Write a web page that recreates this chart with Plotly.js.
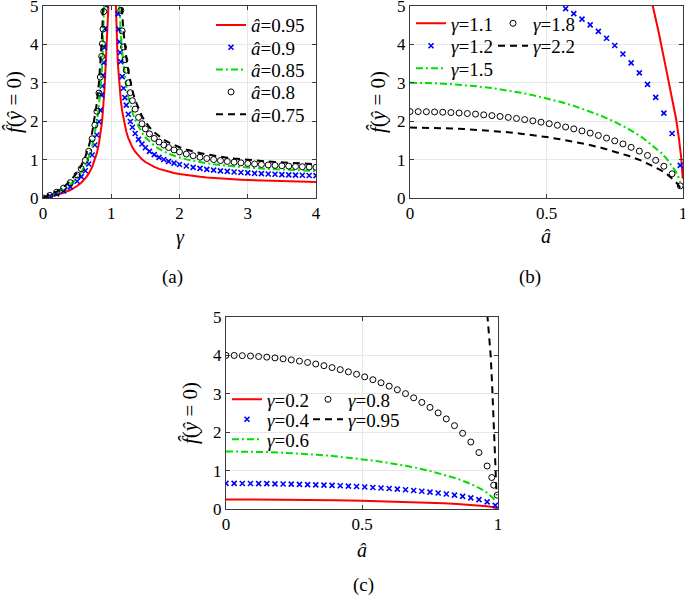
<!DOCTYPE html>
<html>
<head>
<meta charset="utf-8">
<script src="https://cdn.plot.ly/plotly-3.0.1.min.js"></script>
<style>html,body{margin:0;padding:0;background:#fff;}#chart{width:685px;height:597px;}</style>
</head>
<body>
<div id="chart"></div>
<script>
// ---------- Panel (a): f(y=0) versus gamma ----------
const gammaA = [0,0.1,0.2,0.3,0.4,0.5,0.56,0.62,0.67,0.72,0.76,0.79,0.82,0.84,0.86,0.87,0.88,0.89,0.9,0.91,0.92,0.93,0.94,0.96,1.04,1.06,1.07,1.08,1.09,1.1,1.11,1.12,1.13,1.14,1.16,1.18,1.2,1.22,1.25,1.28,1.31,1.35,1.4,1.45,1.5,1.56,1.63,1.7,1.77,1.84,1.92,2.0,2.1,2.2,2.3,2.4,2.5,2.6,2.7,2.8,2.9,3.0,3.1,3.2,3.3,3.4,3.5,3.6,3.7,3.8,3.9,4.0];
const fA095 = [0,0.035,0.078,0.134,0.208,0.312,0.397,0.509,0.634,0.803,0.989,1.174,1.422,1.639,1.918,2.089,2.289,2.526,2.81,3.157,3.59,4.148,4.891,7.49,8.12,5.516,4.772,4.215,3.781,3.434,3.15,2.914,2.714,2.542,2.263,2.047,1.873,1.731,1.561,1.427,1.319,1.204,1.093,1.006,0.937,0.87,0.808,0.758,0.718,0.684,0.652,0.624,0.596,0.572,0.552,0.535,0.52,0.507,0.496,0.486,0.477,0.468,0.461,0.454,0.448,0.442,0.437,0.432,0.428,0.424,0.42,0.416];
const fA090 = [0,0.048,0.109,0.187,0.291,0.436,0.555,0.711,0.885,1.121,1.38,1.64,1.986,2.288,2.678,2.917,3.197,3.527,3.923,4.407,5.013,5.79,6.83,10.46,11.33,7.7,6.66,5.885,5.279,4.795,4.399,4.068,3.789,3.549,3.16,2.858,2.615,2.417,2.18,1.993,1.842,1.681,1.526,1.405,1.308,1.214,1.128,1.059,1.002,0.955,0.91,0.872,0.832,0.799,0.771,0.747,0.727,0.708,0.692,0.678,0.665,0.654,0.643,0.634,0.625,0.618,0.61,0.604,0.597,0.592,0.586,0.581];
const fA085 = [0,0.059,0.132,0.226,0.351,0.527,0.67,0.86,1.07,1.355,1.668,1.982,2.4,2.766,3.236,3.525,3.863,4.262,4.741,5.327,6.058,7.0,8.25,12.64,13.7,9.31,8.05,7.112,6.38,5.795,5.316,4.917,4.579,4.29,3.819,3.453,3.161,2.921,2.634,2.408,2.226,2.032,1.844,1.697,1.58,1.468,1.363,1.279,1.211,1.154,1.099,1.054,1.006,0.966,0.932,0.903,0.878,0.856,0.837,0.819,0.804,0.79,0.778,0.766,0.756,0.746,0.738,0.729,0.722,0.715,0.708,0.702];
const fA080 = [0,0.067,0.15,0.257,0.4,0.6,0.764,0.979,1.218,1.543,1.9,2.257,2.733,3.15,3.686,4.015,4.4,4.855,5.4,6.067,6.9,7.97,9.4,14.4,15.6,10.6,9.17,8.1,7.267,6.6,6.055,5.6,5.215,4.886,4.35,3.933,3.6,3.327,3.0,2.743,2.535,2.314,2.1,1.933,1.8,1.671,1.552,1.457,1.379,1.314,1.252,1.2,1.145,1.1,1.062,1.029,1.0,0.975,0.953,0.933,0.916,0.9,0.886,0.873,0.861,0.85,0.84,0.831,0.822,0.814,0.807,0.8];
const fA075 = [0,0.073,0.165,0.283,0.441,0.661,0.842,1.079,1.343,1.701,2.094,2.488,3.013,3.472,4.063,4.426,4.85,5.351,5.953,6.687,7.606,8.79,10.36,15.87,17.2,11.68,10.11,8.929,8.01,7.275,6.674,6.173,5.749,5.386,4.795,4.336,3.968,3.668,3.307,3.024,2.795,2.551,2.315,2.131,1.984,1.842,1.711,1.606,1.52,1.449,1.38,1.323,1.263,1.213,1.17,1.134,1.102,1.075,1.05,1.029,1.009,0.992,0.976,0.962,0.949,0.937,0.926,0.916,0.906,0.898,0.889,0.882];
const namesA = ['â=0.95','â=0.9','â=0.85','â=0.8','â=0.75'];

// ---------- Panel (b): f(y=0) versus a-hat, gamma > 1 ----------
const aLine = [0,0.05,0.1,0.15,0.2,0.25,0.3,0.35,0.4,0.45,0.5,0.55,0.6,0.65,0.7,0.75,0.8,0.85,0.9,0.92,0.94,0.96,0.97,0.98,0.99];
const aMark = [0,0.03,0.06,0.09,0.12,0.15,0.18,0.21,0.24,0.27,0.3,0.33,0.36,0.39,0.42,0.45,0.48,0.51,0.54,0.57,0.6,0.63,0.66,0.69,0.72,0.75,0.78,0.81,0.84,0.87,0.9,0.93,0.96,0.99];
const aB11 = [0.87,0.89,0.91,0.93,0.95,0.965,0.975,0.985,0.993,0.999];
const fB11 = [5.6,5.0,4.35,3.65,2.95,2.42,2.05,1.55,1.08,0.5];
const aB12 = [0.57,0.6,0.63,0.66,0.69,0.72,0.75,0.78,0.81,0.84,0.87,0.9,0.93,0.96,0.99];
const fB12 = [4.93,4.8,4.66,4.51,4.34,4.16,3.97,3.75,3.52,3.26,2.96,2.62,2.21,1.68,0.85];
const fB15 = [3,2.996,2.985,2.966,2.939,2.905,2.862,2.81,2.75,2.679,2.598,2.505,2.4,2.28,2.142,1.984,1.8,1.58,1.308,1.176,1.024,0.84,0.729,0.597,0.423];
const fB18 = [2.25,2.249,2.246,2.241,2.234,2.225,2.213,2.2,2.184,2.166,2.146,2.124,2.099,2.072,2.042,2.009,1.974,1.935,1.894,1.849,1.8,1.747,1.69,1.629,1.561,1.488,1.408,1.319,1.221,1.109,0.981,0.827,0.63,0.317];
const fB22 = [1.833,1.831,1.824,1.813,1.796,1.775,1.749,1.717,1.68,1.637,1.588,1.531,1.467,1.393,1.309,1.213,1.1,0.966,0.799,0.719,0.625,0.513,0.446,0.365,0.259];

// ---------- Panel (c): f(y=0) versus a-hat, gamma < 1 ----------
const aC02 = [0,0.1,0.2,0.3,0.4,0.5,0.6,0.7,0.8,0.85,0.9,0.94,0.96,0.98,0.99,0.999];
const fC02 = [0.25,0.249,0.245,0.238,0.229,0.217,0.2,0.179,0.15,0.132,0.109,0.085,0.07,0.05,0.035,0.011];
const fC04 = [0.667,0.666,0.665,0.664,0.662,0.659,0.656,0.652,0.647,0.642,0.636,0.629,0.622,0.614,0.605,0.595,0.585,0.573,0.561,0.548,0.533,0.518,0.501,0.483,0.463,0.441,0.417,0.391,0.362,0.329,0.291,0.245,0.187,0.094];
const fC06 = [1.5,1.498,1.492,1.483,1.47,1.452,1.431,1.405,1.375,1.34,1.299,1.253,1.2,1.14,1.071,0.992,0.9,0.79,0.654,0.588,0.512,0.42,0.365,0.299,0.212];
const aC08 = [0,0.03,0.06,0.09,0.12,0.15,0.18,0.21,0.24,0.27,0.3,0.33,0.36,0.39,0.42,0.45,0.48,0.51,0.54,0.57,0.6,0.63,0.66,0.69,0.72,0.75,0.78,0.81,0.84,0.87,0.9,0.93,0.96,0.977,0.984,0.997];
const fC08 = [4,3.998,3.993,3.984,3.971,3.955,3.935,3.911,3.883,3.851,3.816,3.776,3.732,3.683,3.63,3.572,3.509,3.441,3.367,3.287,3.2,3.106,3.005,2.895,2.776,2.646,2.503,2.346,2.17,1.972,1.744,1.47,1.12,0.82,0.62,0.36];
const aC095 = [0.95,0.962,0.968,0.973,0.978,0.983,0.986,0.989,0.992,0.995];
const fC095 = [6.0,5.0,4.5,4.0,3.3,2.6,2.0,1.4,0.85,0.36];

const xTicksA = [0,1,2,3,4];
const xTicksB = [0,0.5,1];
const yTicks = [0,1,2,3,4,5];

// ---------- styles ----------
const W = 685, H = 597;
const SERIF = "'Liberation Serif', 'Times New Roman', Times, serif";
const RED = '#ff0000', BLUE = '#0000ff', GREEN = '#00e000', BLACK = '#000000';
const solid = {color: RED, width: 2};
const dashdot = {color: GREEN, width: 2, dash: '7px,3px,2px,3px'};
const dashed = {color: BLACK, width: 2, dash: '7px,5px'};
const xMark = {symbol: 'x-thin', size: 5, color: BLUE, line: {color: BLUE, width: 1.6}};
const oMark = {symbol: 'circle-open', size: 6, color: BLACK, line: {color: BLACK, width: 1}};

function lab(name) { // italic variable in legend labels
  return name.replace(/^(â|γ)/, '<i>$1</i>');
}
const traces = [];
function add(x, y, name, ax, legend, kind) {
  const t = {x: x, y: y, name: lab(name), xaxis: 'x' + ax, yaxis: 'y' + ax,
    legend: legend, showlegend: true, cliponaxis: true, hoverinfo: 'skip'};
  if (kind === 'solid') { t.mode = 'lines'; t.line = solid; }
  if (kind === 'dashdot') { t.mode = 'lines'; t.line = dashdot; }
  if (kind === 'dashed') { t.mode = 'lines'; t.line = dashed; }
  if (kind === 'x') { t.mode = 'markers'; t.marker = xMark; }
  if (kind === 'o') { t.mode = 'markers'; t.marker = oMark; }
  traces.push(t);
}
add(gammaA, fA095, namesA[0], '', 'legend', 'solid');
add(gammaA, fA090, namesA[1], '', 'legend2', 'x');
add(gammaA, fA085, namesA[2], '', 'legend3', 'dashdot');
add(gammaA, fA080, namesA[3], '', 'legend4', 'o');
add(gammaA, fA075, namesA[4], '', 'legend5', 'dashed');

add(aB11, fB11, 'γ=1.1', '2', 'legend6', 'solid');
add(aB12, fB12, 'γ=1.2', '2', 'legend7', 'x');
add(aLine, fB15, 'γ=1.5', '2', 'legend8', 'dashdot');
add(aMark, fB18, 'γ=1.8', '2', 'legend9', 'o');
add(aLine, fB22, 'γ=2.2', '2', 'legend10', 'dashed');

add(aC02, fC02, 'γ=0.2', '3', 'legend11', 'solid');
add(aMark, fC04, 'γ=0.4', '3', 'legend12', 'x');
add(aLine, fC06, 'γ=0.6', '3', 'legend13', 'dashdot');
add(aC08, fC08, 'γ=0.8', '3', 'legend14', 'o');
add(aC095, fC095, 'γ=0.95', '3', 'legend15', 'dashed');

// ---------- layout ----------
function axis(domainPx, range, ticks, isY) {
  const d = isY ? [1 - domainPx[1] / H, 1 - domainPx[0] / H] : [domainPx[0] / W, domainPx[1] / W];
  return {
    domain: d, range: range, tickvals: ticks, ticktext: ticks.map(String),
    showgrid: true, gridcolor: '#e6e6e6', gridwidth: 1, zeroline: false,
    showline: true, linecolor: '#3a3a3a', linewidth: 1, mirror: 'ticks',
    ticks: 'inside', ticklen: 4, tickcolor: '#3a3a3a', tickwidth: 1,
    ticklabeloverflow: 'allow',
    tickfont: {family: SERIF, size: 17, color: '#000'}, fixedrange: true
  };
}
const layout = {
  width: W, height: H, margin: {l: 0, r: 0, t: 0, b: 0},
  font: {family: SERIF, color: '#000'},
  paper_bgcolor: '#fff', plot_bgcolor: '#fff', showlegend: true,
  xaxis: Object.assign(axis([43, 316], [0, 4], xTicksA, false), {anchor: 'y'}),
  yaxis: Object.assign(axis([6, 198], [0, 5], yTicks, true), {anchor: 'x'}),
  xaxis2: Object.assign(axis([410, 683], [0, 1], xTicksB, false), {anchor: 'y2'}),
  yaxis2: Object.assign(axis([6, 198], [0, 5], yTicks, true), {anchor: 'x2'}),
  xaxis3: Object.assign(axis([226, 498], [0, 1], xTicksB, false), {anchor: 'y3'}),
  yaxis3: Object.assign(axis([317, 509], [0, 5], yTicks, true), {anchor: 'x3'}),
  annotations: []
};

// legends: one entry each; L = left edge of the entry (line sample starts there)
const LFS = 19;
const itemH = LFS * 1.3 + 3;
function legendAt(L, yc) {
  return {x: L / W, y: 1 - (yc - (itemH / 2 + 5)) / H, xanchor: 'left', yanchor: 'top',
    bgcolor: 'rgba(0,0,0,0)', borderwidth: 0, font: {family: SERIF, size: LFS, color: '#000'},
    itemwidth: 30};
}
const legendSpots = [
  [211, 25], [211, 47.3], [211, 69.6], [211, 91.9], [211, 114.2],
  [411, 23.3], [411, 45.7], [411, 68.3], [493, 23.3], [493, 45.7],
  [227, 399.3], [227, 419.3], [227, 439.3], [308, 399.3], [308, 419.3]
];
legendSpots.forEach(function (s, i) {
  layout[i === 0 ? 'legend' : 'legend' + (i + 1)] = legendAt(s[0], s[1]);
});

function note(text, xpx, ypx, size, angle) {
  layout.annotations.push({text: text, x: xpx / W, y: 1 - ypx / H, xref: 'paper', yref: 'paper',
    xanchor: 'center', yanchor: 'middle', showarrow: false, textangle: angle || 0,
    font: {family: SERIF, size: size, color: '#000'}});
}
const yTitle = '<i>f̂</i>(<i>ŷ</i> = 0)';
note('<i>γ</i>', 180, 237, 20);
note('<i>â</i>', 546, 236, 20);
note('<i>â</i>', 362, 550, 20);
note(yTitle, 14, 102, 21, -90);
note(yTitle, 378, 102, 21, -90);
note(yTitle, 190, 413, 21, -90);
note('(a)', 172, 277, 19);
note('(b)', 530, 277, 19);
note('(c)', 363, 585, 19);

Plotly.newPlot('chart', traces, layout, {displayModeBar: false, staticPlot: true});
</script>
</body>
</html>
